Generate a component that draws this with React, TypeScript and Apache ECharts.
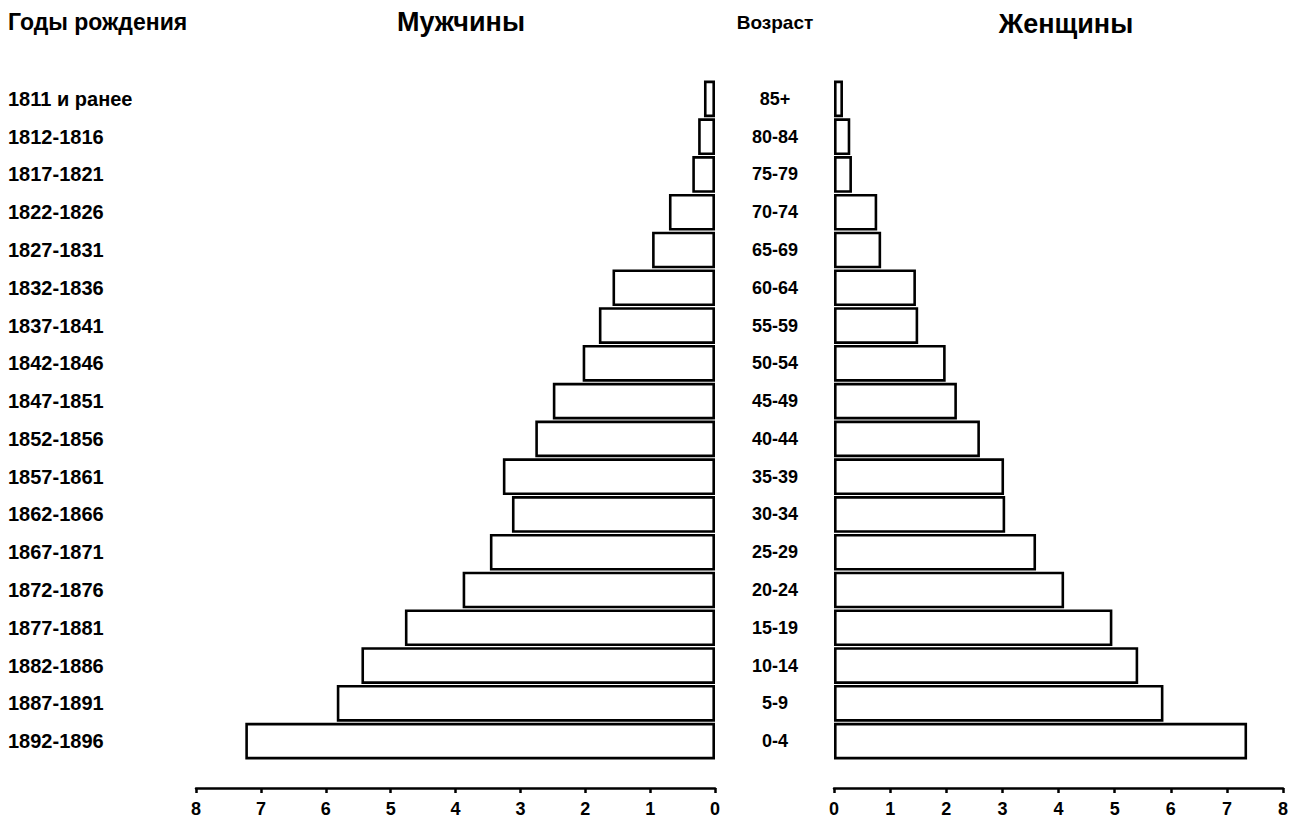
import React, { useEffect, useRef } from "react";
import * as echarts from "echarts";

const birthYears = [
  "1811 и ранее", "1812-1816", "1817-1821", "1822-1826", "1827-1831", "1832-1836",
  "1837-1841", "1842-1846", "1847-1851", "1852-1856", "1857-1861", "1862-1866",
  "1867-1871", "1872-1876", "1877-1881", "1882-1886", "1887-1891", "1892-1896",
];
const ages = [
  "85+", "80-84", "75-79", "70-74", "65-69", "60-64", "55-59", "50-54", "45-49",
  "40-44", "35-39", "30-34", "25-29", "20-24", "15-19", "10-14", "5-9", "0-4",
];
const male = [0.17, 0.26, 0.35, 0.71, 0.97, 1.58, 1.79, 2.04, 2.5, 2.77, 3.27, 3.13, 3.47, 3.89, 4.78, 5.45, 5.83, 7.24];
const female = [0.16, 0.29, 0.32, 0.77, 0.84, 1.46, 1.5, 1.99, 2.19, 2.6, 3.03, 3.05, 3.6, 4.1, 4.96, 5.42, 5.87, 7.36];
const axisMin = 0;
const axisMax = 8;
const axisStep = 1;

const FONT = "'Liberation Sans', Arial, Helvetica, sans-serif";

export default function App() {
  const ref = useRef<HTMLDivElement>(null);
  useEffect(() => {
    document.body.style.margin = "0";
    document.body.style.overflow = "hidden";
    const chart = echarts.init(ref.current!, null, { renderer: "svg" });
    const barStyle = { color: "#ffffff", borderColor: "#000000", borderWidth: 2.6 };
    const xAxisCommon = {
      type: "value" as const,
      min: axisMin,
      max: axisMax,
      interval: axisStep,
      offset: 28,
      axisLine: { show: true, lineStyle: { color: "#000", width: 2.5 } },
      axisTick: { show: true, length: 5, lineStyle: { color: "#000", width: 2.5 } },
      axisLabel: { color: "#000", fontSize: 18, fontWeight: "bold" as const, fontFamily: FONT, margin: 12 },
      splitLine: { show: false },
    };
    chart.setOption({
      animation: false,
      backgroundColor: "#ffffff",
      grid: [
        { left: 196, width: 519, top: 80, height: 680 },
        { left: 834, width: 449, top: 80, height: 680 },
      ],
      xAxis: [
        { ...xAxisCommon, gridIndex: 0, inverse: true },
        { ...xAxisCommon, gridIndex: 1 },
      ],
      yAxis: [
        {
          type: "category",
          gridIndex: 0,
          data: birthYears,
          inverse: true,
          axisLine: { show: false },
          axisTick: { show: false },
          axisLabel: { align: "left", margin: 188, color: "#000", fontSize: 20, fontWeight: "bold", fontFamily: FONT },
        },
        {
          type: "category",
          gridIndex: 1,
          data: ages,
          inverse: true,
          axisLine: { show: false },
          axisTick: { show: false },
          axisLabel: { align: "center", margin: 59, color: "#000", fontSize: 18, fontWeight: "bold", fontFamily: FONT },
        },
      ],
      series: [
        { type: "bar", xAxisIndex: 0, yAxisIndex: 0, data: male, barCategoryGap: "3%", itemStyle: barStyle },
        { type: "bar", xAxisIndex: 1, yAxisIndex: 1, data: female, barCategoryGap: "3%", itemStyle: barStyle },
      ],
      graphic: [
        { type: "text", x: 8, y: 22, style: { text: "Годы рождения", fill: "#000", fontSize: 23, fontWeight: "bold", fontFamily: FONT, align: "left", verticalAlign: "middle" } },
        { type: "text", x: 461, y: 22, style: { text: "Мужчины", fill: "#000", fontSize: 27, fontWeight: "bold", fontFamily: FONT, align: "center", verticalAlign: "middle" } },
        { type: "text", x: 775, y: 22, style: { text: "Возраст", fill: "#000", fontSize: 19, fontWeight: "bold", fontFamily: FONT, align: "center", verticalAlign: "middle" } },
        { type: "text", x: 1066, y: 24, style: { text: "Женщины", fill: "#000", fontSize: 27, fontWeight: "bold", fontFamily: FONT, align: "center", verticalAlign: "middle" } },
      ],
    });
    return () => chart.dispose();
  }, []);
  return <div ref={ref} style={{ width: 1303, height: 834 }} />;
}
